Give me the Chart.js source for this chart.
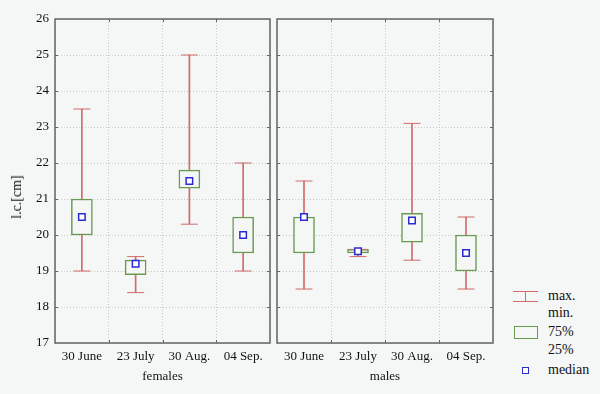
<!DOCTYPE html>
<html>
<head>
<meta charset="utf-8">
<script src="https://cdn.jsdelivr.net/npm/chart.js@4/dist/chart.umd.min.js"></script>
<style>
  body { margin: 0; background: #f5f7f7; font-family: "Liberation Serif", serif; }
  #wrap { position: relative; width: 600px; height: 394px; }
  canvas { position: absolute; top: 0; }
  #left { left: 0; }
  #right { left: 272px; }
  .ytitle { position: absolute; left: 17px; top: 197px; transform: translate(-50%, -50%) rotate(-90deg);
            font-size: 14px; white-space: nowrap; color: #111; }
  .leg { position: absolute; font-size: 14px; color: #111; }
  .ico { position: absolute; box-sizing: border-box; }
</style>
</head>
<body>
<div id="wrap">
  <canvas id="left" width="272" height="394"></canvas>
  <canvas id="right" width="228" height="394"></canvas>
  <div class="ytitle">l.c.[cm]</div>

  <!-- legend -->
  <div class="ico" style="left:513px;top:291px;width:25px;height:1px;background:#d26a6a"></div>
  <div class="ico" style="left:525px;top:291px;width:1px;height:11px;background:#d26a6a"></div>
  <div class="ico" style="left:513px;top:301px;width:25px;height:1px;background:#d26a6a"></div>
  <div class="leg" style="left:548px;top:288px">max.</div>
  <div class="leg" style="left:548px;top:305px">min.</div>
  <div class="ico" style="left:514px;top:326px;width:24px;height:13px;border:1.5px solid #6a9a50"></div>
  <div class="leg" style="left:548px;top:324px">75%</div>
  <div class="leg" style="left:548px;top:342px">25%</div>
  <div class="ico" style="left:522px;top:367px;width:7px;height:7px;border:1.5px solid #2a2ad6;background:#fff"></div>
  <div class="leg" style="left:548px;top:362px">median</div>
</div>
<script>
const categories = ['30 June', '23 July', '30 Aug.', '04 Sep.'];

// females
const fMin = [19.0, 18.4, 20.3, 19.0];
const fQ1  = [20.0, 18.9, 21.3, 19.5];
const fMed = [20.5, 19.2, 21.5, 20.0];
const fQ3  = [21.0, 19.3, 21.8, 20.5];
const fMax = [23.5, 19.4, 25.0, 22.0];

// males
const mMin = [18.5, 19.4, 19.3, 18.5];
const mQ1  = [19.5, 19.5, 19.8, 19.0];
const mMed = [20.5, 19.55, 20.4, 19.5];
const mQ3  = [20.5, 19.6, 20.6, 20.0];
const mMax = [21.5, 19.6, 23.1, 20.5];

const yTicks = [17, 18, 19, 20, 21, 22, 23, 24, 25, 26];

const BG = '#f5f7f7';
const RED = '#d26a6a';
const GREEN = '#6a9a50';
const BLUE = '#2a2ad6';
const FRAME = '#5f6666';
const GRID = '#c4c8c8';
const FONT = { family: '"Liberation Serif", serif', size: 13 };

function datasets(mins, q1, med, q3, maxs) {
    const pair = (a, b) => a.map((v, i) => [v, b[i]]);
    return [
        { type: 'bar', data: pair(mins, maxs), backgroundColor: RED, barThickness: 1, grouped: false, order: 5 },
        { type: 'bar', data: pair(q1, q3), backgroundColor: BG, borderColor: GREEN, borderWidth: 1.5,
          borderSkipped: false, barThickness: 21, grouped: false, order: 4 },
        { type: 'line', data: maxs, showLine: false, pointStyle: 'line', pointRadius: 8.5,
          borderColor: RED, borderWidth: 1, order: 3 },
        { type: 'line', data: mins, showLine: false, pointStyle: 'line', pointRadius: 8.5,
          borderColor: RED, borderWidth: 1, order: 3 },
        { type: 'line', data: med, showLine: false, pointStyle: 'rect', pointRadius: 4.6,
          borderColor: BLUE, backgroundColor: '#fff', borderWidth: 1.5, order: 1 },
    ];
}

// frame round the plot area with short inward ticks at every grid line
const framePlugin = {
    id: 'frame',
    beforeDraw(chart) {
        const { ctx } = chart;
        ctx.save();
        ctx.fillStyle = BG;
        ctx.fillRect(0, 0, chart.width, chart.height);
        ctx.restore();
    },
    afterDatasetsDraw(chart) {
        const { ctx, chartArea: a, scales } = chart;
        ctx.save();
        ctx.strokeStyle = FRAME;
        ctx.lineWidth = 1.5;
        ctx.strokeRect(a.left, a.top, a.right - a.left, a.bottom - a.top);
        ctx.lineWidth = 1;
        ctx.beginPath();
        const xs = scales.x;
        for (let i = 1; i < categories.length; i++) {
            const x = Math.round((xs.getPixelForTick(i - 1) + xs.getPixelForTick(i)) / 2) + 0.5;
            ctx.moveTo(x, a.top); ctx.lineTo(x, a.top + 3);
            ctx.moveTo(x, a.bottom); ctx.lineTo(x, a.bottom - 3);
        }
        yTicks.slice(1, -1).forEach((v) => {
            const y = Math.round(scales.y.getPixelForValue(v)) + 0.5;
            ctx.moveTo(a.left, y); ctx.lineTo(a.left + 3, y);
            ctx.moveTo(a.right, y); ctx.lineTo(a.right - 3, y);
        });
        ctx.stroke();
        ctx.restore();
    },
};

function panel(canvas, title, ds, showY, padding) {
    return new Chart(canvas, {
        data: { labels: categories, datasets: ds },
        options: {
            responsive: false,
            animation: false,
            events: [],
            layout: { padding, autoPadding: false },
            plugins: { legend: { display: false }, tooltip: { enabled: false } },
            scales: {
                x: {
                    offset: true,
                    grid: { offset: true, color: GRID, drawTicks: false, lineWidth: 1 },
                    border: { display: false, dash: [1, 2] },
                    ticks: { color: '#111', font: FONT, padding: 6, maxRotation: 0 },
                    title: { display: true, text: title, color: '#111', font: FONT, padding: { top: 0, bottom: 10 } },
                    afterFit: (s) => { s.height = 51; s.paddingLeft = 0; s.paddingRight = 0; },
                },
                y: {
                    display: showY ? true : 'auto',
                    min: 17, max: 26,
                    afterBuildTicks: (s) => { s.ticks = yTicks.map((v) => ({ value: v })); },
                    grid: { color: GRID, drawTicks: false, lineWidth: 1 },
                    border: { display: false, dash: [1, 2] },
                    ticks: { display: showY, color: '#111', font: FONT, padding: 6 },
                    afterFit: (s) => { s.width = showY ? 55 : 0; s.paddingTop = 0; s.paddingBottom = 0; },
                },
            },
        },
        plugins: [framePlugin],
    });
}

panel(document.getElementById('left'), 'females',
    datasets(fMin, fQ1, fMed, fQ3, fMax), true, { top: 19, right: 2, left: 0, bottom: 0 });
panel(document.getElementById('right'), 'males',
    datasets(mMin, mQ1, mMed, mQ3, mMax), false, { top: 19, right: 7, left: 5, bottom: 0 });
</script>
</body>
</html>
